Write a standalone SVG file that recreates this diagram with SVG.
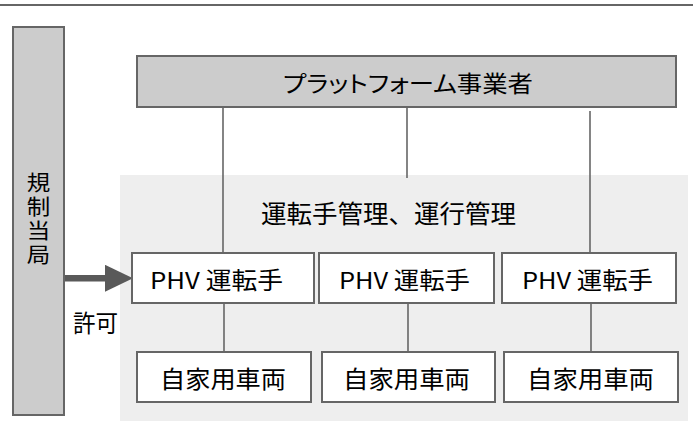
<svg xmlns="http://www.w3.org/2000/svg" width="693" height="428" viewBox="0 0 693 428">
<style>
.t{font-family:"Noto Sans CJK JP","Noto Sans",sans-serif;fill:#000;dominant-baseline:central;}
.p{font-feature-settings:"palt";}
.box{fill:#fff;stroke:#666;stroke-width:2;}
.gbox{fill:#cccccc;stroke:#666;stroke-width:2;}
.ln{stroke:#666;stroke-width:1.6;fill:none;}
</style>
<defs>
<marker id="ah" markerUnits="userSpaceOnUse" markerWidth="28" markerHeight="27" refX="3" refY="13.5" orient="auto">
<path d="M0,0 L28,13.5 L0,27 Z" fill="#595959"/>
</marker>
</defs>
<rect width="693" height="428" fill="#fff"/>
<line x1="0" y1="5" x2="693" y2="5" stroke="#666" stroke-width="2"/>
<rect id="area" x="120" y="175" width="568" height="246" fill="#eeeeee"/>
<g id="connectors">
<path class="ln" d="M223,107 V253"/>
<path class="ln" d="M407,107 V178"/>
<path class="ln" d="M590,111 V253"/>
<path class="ln" d="M224,303 V352"/>
<path class="ln" d="M408,303 V352"/>
<path class="ln" d="M591,303 V352"/>
<line x1="64" y1="278.3" x2="108" y2="278.3" stroke="#595959" stroke-width="6.5" marker-end="url(#ah)"/>
<text class="t" x="73" y="321" font-size="24" textLength="45" lengthAdjust="spacingAndGlyphs">許可</text>
</g>
<g id="regulator">
<rect class="gbox" x="13" y="27" width="51" height="388"/>
<text class="t" x="38.5" y="219.5" font-size="21" style="writing-mode:vertical-rl;letter-spacing:3px" text-anchor="middle" transform="translate(38.5 0) scale(1.12 1) translate(-38.5 0)">規制当局</text>
</g>
<g id="platform">
<rect class="gbox" x="137" y="56" width="539" height="51"/>
<text class="t p" x="283" y="82" font-size="23" textLength="250" lengthAdjust="spacingAndGlyphs">プラットフォーム事業者</text>
</g>
<g id="management">
<text class="t" x="261" y="212" font-size="25" textLength="255" lengthAdjust="spacingAndGlyphs">運転手管理、運行管理</text>
</g>
<g id="driver1">
<rect class="box" x="132" y="253" width="182" height="50"/>
<text class="t" x="150" y="279" font-size="23.5" textLength="133" lengthAdjust="spacingAndGlyphs">PHV 運転手</text>
</g>
<g id="driver2">
<rect class="box" x="319" y="253" width="175" height="50"/>
<text class="t" x="339" y="279" font-size="23.5" textLength="131" lengthAdjust="spacingAndGlyphs">PHV 運転手</text>
</g>
<g id="driver3">
<rect class="box" x="502" y="253" width="174" height="50"/>
<text class="t" x="522" y="279" font-size="23.5" textLength="131" lengthAdjust="spacingAndGlyphs">PHV 運転手</text>
</g>
<g id="car1">
<rect class="box" x="137" y="352" width="174" height="50"/>
<text class="t" x="160" y="377.5" font-size="24" textLength="126" lengthAdjust="spacingAndGlyphs">自家用車両</text>
</g>
<g id="car2">
<rect class="box" x="322" y="352" width="173" height="50"/>
<text class="t" x="343" y="377.5" font-size="24" textLength="127" lengthAdjust="spacingAndGlyphs">自家用車両</text>
</g>
<g id="car3">
<rect class="box" x="504" y="352" width="174" height="50"/>
<text class="t" x="527" y="377.5" font-size="24" textLength="127" lengthAdjust="spacingAndGlyphs">自家用車両</text>
</g>
</svg>
